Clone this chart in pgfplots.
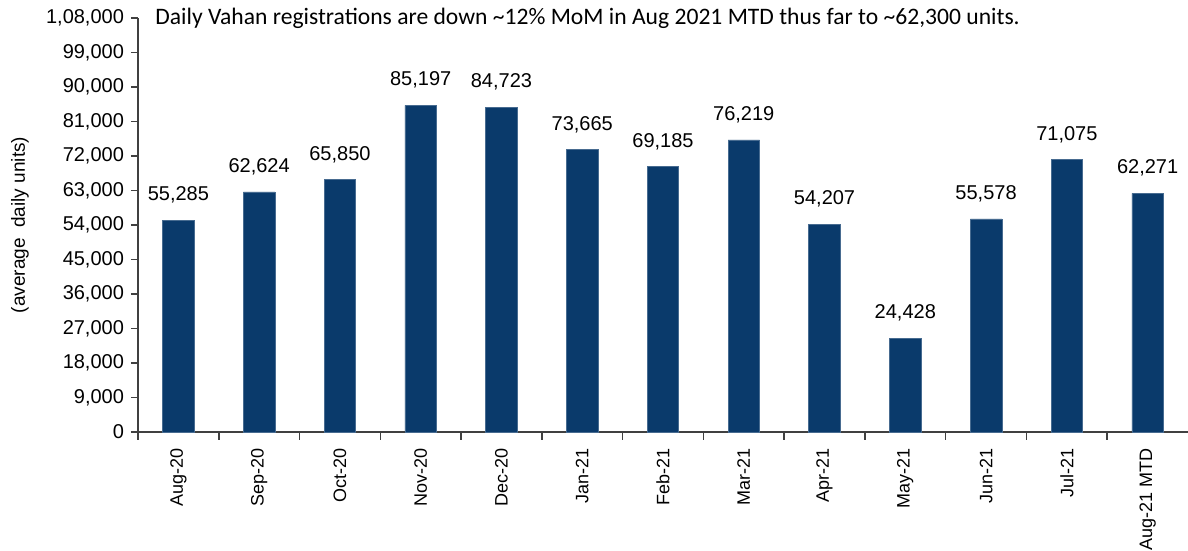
\documentclass[border=0pt]{standalone}
\usepackage{pgfplots}
\pgfplotsset{compat=1.18}
\usepackage{fontspec}
\setmainfont{Liberation Sans}
\newfontfamily\titlefont{Carlito}
\definecolor{barblue}{RGB}{10,58,107}
\definecolor{axgray}{RGB}{64,64,64}
\begin{document}
\begin{tikzpicture}
\useasboundingbox (-69pt,-59.5pt) rectangle (525pt,216pt);
\begin{axis}[
  at={(0pt,0pt)}, anchor=south west,
  scale only axis, width=525pt, height=207pt,
  xmin=-0.5, xmax=12.5, ymin=0, ymax=108000,
  scaled y ticks=false,
  axis lines=left, axis line style={-, draw=axgray, line width=0.8pt},
  tick align=outside,
  xtick={0,...,12},
  xticklabels={Aug-20,Sep-20,Oct-20,Nov-20,Dec-20,Jan-21,Feb-21,Mar-21,Apr-21,May-21,Jun-21,Jul-21,Aug-21 MTD},
  x tick label style={rotate=90, anchor=east, font=\fontsize{9}{11}\selectfont, text=black, xshift=-1pt},
  major x tick style={draw=none},
  minor xtick={-0.5,0.5,...,11.5},
  minor tick length=4pt,
  minor x tick style={draw=axgray, line width=0.8pt},
  ytick={0,9000,...,108000},
  yticklabels={0,{9,000},{18,000},{27,000},{36,000},{45,000},{54,000},{63,000},{72,000},{81,000},{90,000},{99,000},{1,08,000}},
  y tick label style={font=\fontsize{10}{12}\selectfont, text=black},
  major y tick style={draw=axgray, line width=0.8pt},
  major tick length=3.5pt,
  ybar, bar width=0.39,
  nodes near coords,
  /pgf/number format/.cd, 1000 sep={,}, fixed, precision=0, assume math mode=true,
  /pgfplots/.cd,
  every node near coord/.append style={font=\fontsize{10}{12}\selectfont, text=black, yshift=5pt},
  clip=false,
]
\addplot[fill=barblue, draw=barblue!75!white, line width=0.3pt] coordinates {
(0,55285) (1,62624) (2,65850) (3,85197) (4,84723) (5,73665) (6,69185)
(7,76219) (8,54207) (9,24428) (10,55578) (11,71075) (12,62271)};
\end{axis}
\node[rotate=90, font=\fontsize{9.5}{11}\selectfont] at (-59pt,103.5pt) {(average\ \ daily units)};
\node[anchor=west, font=\titlefont\fontsize{11.8}{13}\selectfont, inner sep=0pt] at (8.5pt,207pt) {Daily Vahan registrations are down \textasciitilde 12\% MoM in Aug 2021 MTD thus far to \textasciitilde 62,300 units.};
\end{tikzpicture}
\end{document}
